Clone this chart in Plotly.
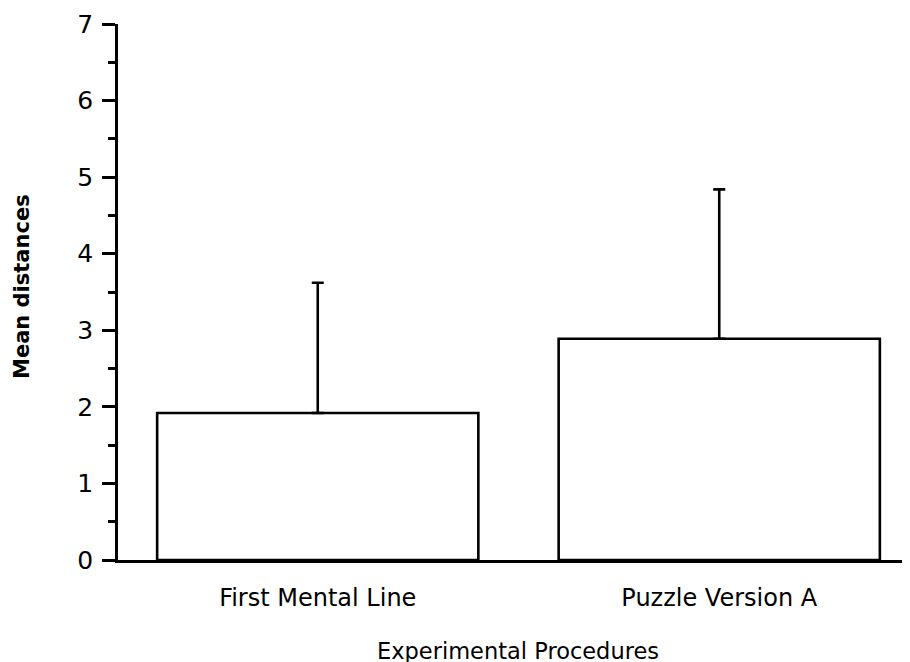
import plotly.graph_objects as go

categories = ["First Mental Line", "Puzzle Version A"]
means = [1.92, 2.89]
errors_plus = [1.70, 1.95]
y_ticks = [0, 1, 2, 3, 4, 5, 6, 7]

W, H = 910, 662
ML, MR, MT, MB = 110, 0, 16, 110
PW = W - ML - MR
PH = H - MT - MB

fig = go.Figure()
fig.add_trace(go.Bar(
    x=categories, y=means,
    marker=dict(color="white", line=dict(color="black", width=2.6)),
    width=0.8,
    error_y=dict(type="data", symmetric=False, array=errors_plus,
                 arrayminus=[0, 0], color="black", thickness=2.6, width=6),
))

fig.update_layout(
    width=W, height=H,
    margin=dict(l=ML, r=MR, t=MT, b=MB, autoexpand=False),
    plot_bgcolor="white", paper_bgcolor="white",
    showlegend=False,
    font=dict(family="DejaVu Sans", color="black"),
    xaxis=dict(
        range=[-0.4975, 1.495], showline=True, linecolor="black", linewidth=2.6,
        ticks="", tickfont=dict(size=24, family="DejaVu Sans"),
        ticklabelstandoff=14, automargin=False,
        title=dict(text="Experimental Procedures", font=dict(size=22.5), standoff=33),
        showgrid=False, zeroline=False,
    ),
    yaxis=dict(
        range=[0, 7], tickvals=y_ticks, showline=True, linecolor="black", linewidth=2.6,
        ticks="outside", ticklen=13, tickwidth=2.6, tickcolor="black",
        tickfont=dict(size=25, family="DejaVu Sans"),
        ticklabelstandoff=4, automargin=False,
        minor=dict(dtick=0.5, ticks="outside", ticklen=7, tickwidth=2.6, tickcolor="black"),
        showgrid=False, zeroline=False,
    ),
    annotations=[dict(
        text="<b>Mean distances</b>", textangle=-90, xref="paper", yref="paper",
        x=(14 - ML) / PW, y=(552 - 279) / PH, xanchor="center", yanchor="middle",
        showarrow=False, font=dict(size=21, family="DejaVu Sans"),
    )],
)

fig.write_html("out.html")
